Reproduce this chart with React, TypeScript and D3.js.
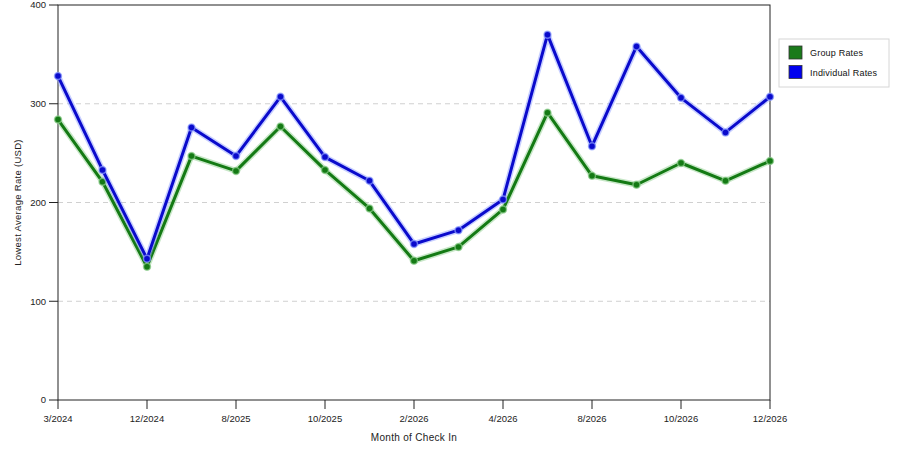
import React from 'react';
import * as d3 from 'd3';

const months = [
  '3/2024', '6/2024', '12/2024', '5/2025', '8/2025', '9/2025', '10/2025', '11/2025',
  '2/2026', '3/2026', '4/2026', '5/2026', '8/2026', '9/2026', '10/2026', '11/2026', '12/2026',
];
const tickMonths = ['3/2024', '12/2024', '8/2025', '10/2025', '2/2026', '4/2026', '8/2026', '10/2026', '12/2026'];
const groupRates = [284, 221, 135, 247, 232, 277, 233, 194, 141, 155, 193, 291, 227, 218, 240, 222, 242];
const individualRates = [328, 233, 143, 276, 247, 307, 246, 222, 158, 172, 203, 370, 257, 358, 306, 271, 307];
const yTicks = [0, 100, 200, 300, 400];

const seriesList = [
  { name: 'Group Rates', values: groupRates, color: '#147a14', halo: '#8fcf8f', swatch: '#1a7a1a' },
  { name: 'Individual Rates', values: individualRates, color: '#0a0acc', halo: '#8f9fff', swatch: '#0000ee' },
];

const width = 900;
const height = 450;
const margin = { top: 5, right: 130, bottom: 50, left: 58 };
const font = '"Liberation Sans", Arial, sans-serif';

export default function App() {
  const innerW = width - margin.left - margin.right;
  const innerH = height - margin.top - margin.bottom;

  const x = d3.scalePoint<string>().domain(months).range([0, innerW]);
  const y = d3.scaleLinear().domain([0, 400]).range([innerH, 0]);

  const line = d3.line<number>()
    .x((_, i) => x(months[i]) as number)
    .y(d => y(d));

  return (
    <svg
      width={width}
      height={height}
      style={{ position: 'absolute', left: 0, top: 0, background: '#fff' }}
      fontFamily={font}
    >
      <g transform={`translate(${margin.left},${margin.top})`}>
        {/* grid */}
        {yTicks.filter(t => t > 0 && t < 400).map(t => (
          <line key={t} x1={0} x2={innerW} y1={y(t)} y2={y(t)}
            stroke="#d0d0d0" strokeDasharray="5,4" strokeWidth={1} />
        ))}

        {/* frame */}
        <rect x={0} y={0} width={innerW} height={innerH} fill="none" stroke="#222" strokeWidth={1} />

        {/* y axis */}
        {yTicks.map(t => (
          <g key={t} transform={`translate(0,${y(t)})`}>
            <line x1={-9} x2={0} stroke="#222" />
            <text x={-12} dy="0.35em" textAnchor="end" fontSize={9.5} fill="#222">{t}</text>
          </g>
        ))}

        {/* x axis */}
        {tickMonths.map(m => (
          <g key={m} transform={`translate(${x(m)},${innerH})`}>
            <line y1={0} y2={9} stroke="#222" />
            <text y={22} textAnchor="middle" fontSize={9.5} fill="#222">{m}</text>
          </g>
        ))}

        {/* lines */}
        {seriesList.map(s => (
          <g key={s.name}>
            <path d={line(s.values) || ''} fill="none" stroke={s.halo} strokeOpacity={0.5} strokeWidth={6} strokeLinejoin="round" />
            <path d={line(s.values) || ''} fill="none" stroke={s.color} strokeWidth={3} strokeLinejoin="round" />
            {s.values.map((v, i) => (
              <circle key={i} cx={x(months[i])} cy={y(v)} r={3.5}
                fill={s.color} stroke={s.halo} strokeOpacity={0.7} strokeWidth={1.5} />
            ))}
          </g>
        ))}
      </g>

      {/* axis titles */}
      <text x={margin.left + innerW / 2} y={441} textAnchor="middle" fontSize={10} letterSpacing={0.3} fill="#222">Month of Check In</text>
      <text transform={`translate(21,${margin.top + innerH / 2}) rotate(-90)`} textAnchor="middle" fontSize={9.5} letterSpacing={0.3} fill="#222">
        Lowest Average Rate (USD)
      </text>

      {/* legend */}
      <g transform="translate(779,39)">
        <rect x={0} y={0} width={110} height={48} fill="#fff" stroke="#d6d6d6" />
        {seriesList.map((s, i) => (
          <g key={s.name} transform={`translate(10,${7 + i * 19.5})`}>
            <rect width={13} height={13} fill={s.swatch} stroke="#333" strokeWidth={0.8} />
            <text x={21} y={10} fontSize={9} letterSpacing={0.2} fill="#111">{s.name}</text>
          </g>
        ))}
      </g>
    </svg>
  );
}
